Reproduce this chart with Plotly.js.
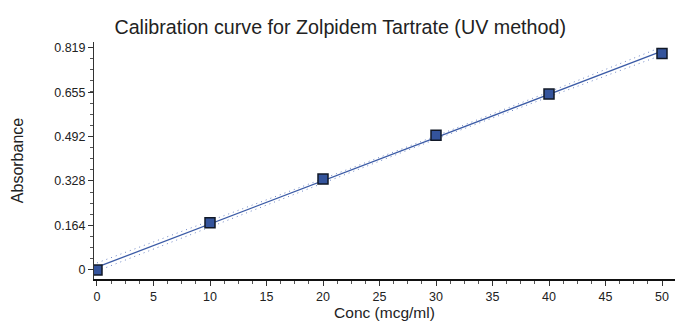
<!DOCTYPE html>
<html>
<head>
<meta charset="utf-8">
<script src="https://cdn.plot.ly/plotly-3.0.1.min.js"></script>
<style>html,body{margin:0;padding:0;background:#fff}#chart{width:675px;height:327px}</style>
</head>
<body>
<div id="chart"></div>
<script>
// Data
const conc = [0, 10, 20, 30, 40, 50];
const absorbance = [0, 0.174, 0.335, 0.496, 0.648, 0.798];
// Fitted calibration line (read at its ends)
const fitX = [0, 50];
const fitY = [0.0104, 0.8065];
// Dotted confidence band
const bandX = [0, 10, 20, 30, 40, 50];
const bandUpper = [0.026, 0.181, 0.336, 0.494, 0.656, 0.822];
const bandLower = [-0.004, 0.158, 0.321, 0.482, 0.638, 0.792];
const yTickVals = [0, 0.164, 0.328, 0.492, 0.655, 0.819];
const yTickText = ['0', '0.164', '0.328', '0.492', '0.655', '0.819'];
const xTickVals = [0, 5, 10, 15, 20, 25, 30, 35, 40, 45, 50];

const FONT = '"Liberation Sans", Arial, sans-serif';
const lineColor = '#3b5ba6';

const traces = [
  {x: bandX, y: bandUpper, mode: 'lines', line: {color: '#7088c6', width: 1, dash: '1px,4px'}, hoverinfo: 'skip'},
  {x: bandX, y: bandLower, mode: 'lines', line: {color: '#7088c6', width: 1, dash: '1px,4px'}, hoverinfo: 'skip'},
  {x: fitX, y: fitY, mode: 'lines', line: {color: lineColor, width: 1.3}},
  {x: conc, y: absorbance, mode: 'markers',
   marker: {symbol: 'square', size: 10, color: '#34549c', line: {color: '#111827', width: 1.5}}}
];

const layout = {
  width: 675, height: 327,
  margin: {l: 94, r: 0, t: 42, b: 48},
  paper_bgcolor: '#fff', plot_bgcolor: '#fff',
  showlegend: false,
  font: {family: FONT, color: '#222', size: 12},
  title: {text: 'Calibration curve for Zolpidem Tartrate (UV method)',
          font: {family: FONT, size: 19.7, color: '#222'},
          xref: 'container', x: 0.504, xanchor: 'center',
          yref: 'container', y: 1 - 27/327, yanchor: 'middle'},
  xaxis: {
    range: [-0.265, 51.15],
    tickvals: xTickVals,
    ticks: 'outside', ticklen: 5, tickwidth: 1, tickcolor: '#333',
    showline: true, linecolor: '#111', linewidth: 2,
    showgrid: false, zeroline: false,
    minor: {dtick: 1.25, tick0: 0, ticks: 'outside', ticklen: 3, tickcolor: '#555'},
    tickfont: {family: FONT, size: 12.5, color: '#222'},
    title: {text: 'Conc (mcg/ml)', font: {family: FONT, size: 15.5, color: '#222'}, standoff: 4}
  },
  yaxis: {
    range: [-0.0332, 0.840],
    tickvals: yTickVals, ticktext: yTickText,
    ticks: 'outside', ticklen: 5, tickwidth: 1, tickcolor: '#333',
    showline: true, linecolor: '#333', linewidth: 1,
    showgrid: false, zeroline: false,
    minor: {dtick: 0.041, tick0: 0, ticks: 'outside', ticklen: 3, tickcolor: '#555'},
    tickfont: {family: FONT, size: 12.5, color: '#222'},
    title: {text: 'Absorbance', font: {family: FONT, size: 16, color: '#222'}, standoff: 26}
  }
};

Plotly.newPlot('chart', traces, layout, {displayModeBar: false, staticPlot: true});
</script>
</body>
</html>
